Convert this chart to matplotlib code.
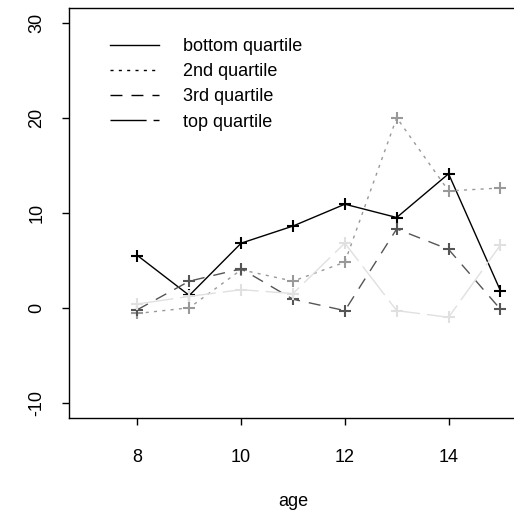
import matplotlib.pyplot as plt
from matplotlib.lines import Line2D

plt.rcParams['font.family'] = ['Liberation Sans', 'DejaVu Sans']
plt.rcParams['axes.unicode_minus'] = False

ages = [8, 9, 10, 11, 12, 13, 14, 15]
bottom_q = [5.5, 1.3, 6.8, 8.6, 10.9, 9.5, 14.1, 1.8]
second_q = [-0.6, 0.0, 4.0, 2.8, 4.8, 20.0, 12.3, 12.6]
third_q = [-0.2, 2.8, 4.1, 0.9, -0.3, 8.3, 6.15, -0.15]
top_q = [0.4, 1.2, 1.9, 1.5, 6.8, -0.3, -1.0, 6.6]

labels = ['bottom quartile', '2nd quartile', '3rd quartile', 'top quartile']
colors = ['#000000', '#999999', '#555555', '#e0e0e0']
dashes = ['-', (0, (2.2, 3.8)), (0, (8.6, 6.5)), (0, (26, 5))]

fig = plt.figure(figsize=(5.14, 5.15), dpi=100)
ax = fig.add_axes([69 / 514, 97 / 515, 448 / 514, 410.5 / 515])

for vals, col, ls in zip([bottom_q, second_q, third_q, top_q], colors, dashes):
    ax.plot(ages, vals, color=col, linestyle=ls, lw=1.0,
            marker='+', markersize=9, markeredgewidth=1.5)

ax.set_xlim(6.68, 15.32)
ax.set_ylim(-11.6, 31.6)
ax.set_xticks([8, 10, 12, 14])
ax.set_yticks([-10, 0, 10, 20, 30])
for s in ax.spines.values():
    s.set_linewidth(1.0)
ax.tick_params(direction='out', length=5, width=1.0, labelsize=13)
ax.tick_params(axis='x', pad=17)
ax.tick_params(axis='y', pad=12)
for t in ax.get_yticklabels():
    t.set_rotation(90)
    t.set_va('center')
ax.set_xlabel('age', fontsize=13, labelpad=20)

handles = [Line2D([0], [0], color='black', lw=1.0, linestyle=ls) for ls in dashes]
ax.legend(handles, labels, loc='upper left', bbox_to_anchor=(103 / 514, 1 - 31 / 515),
          bbox_transform=fig.transFigure, frameon=False, fontsize=13,
          handlelength=2.72, handletextpad=1.3, labelspacing=0.45, borderaxespad=0)

fig.savefig('out.png', dpi=100)
